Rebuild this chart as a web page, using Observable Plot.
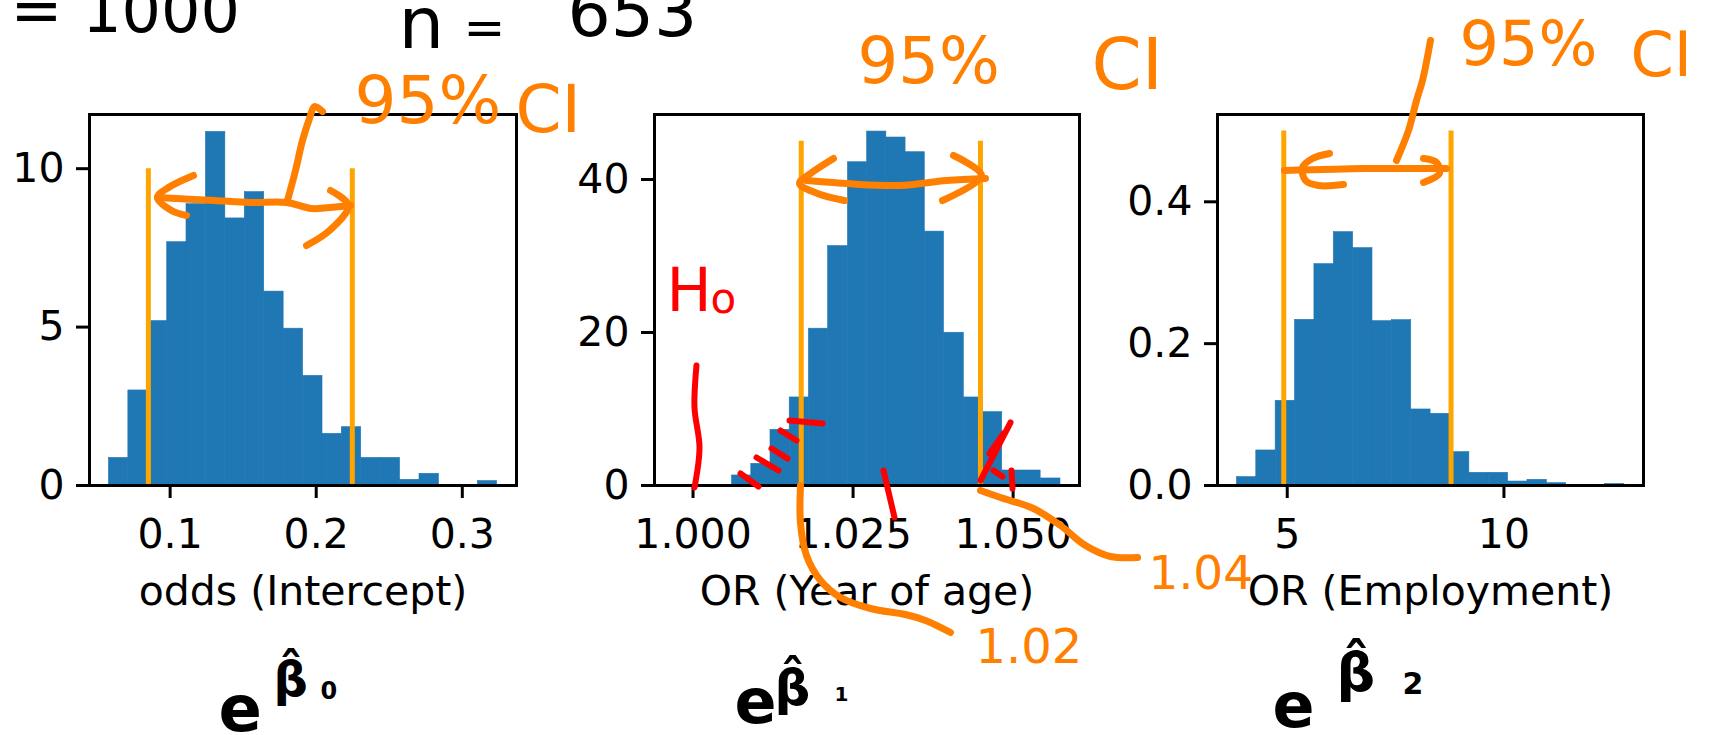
<!DOCTYPE html>
<html>
<head>
<meta charset="utf-8">
<script src="https://cdn.jsdelivr.net/npm/d3@7"></script>
<script src="https://cdn.jsdelivr.net/npm/@observablehq/plot@0.6"></script>
<style>
  html, body { margin: 0; padding: 0; background: #ffffff; }
  #chart { position: relative; width: 1710px; height: 735px; overflow: hidden; background: #ffffff; }
</style>
</head>
<body>
<div id="chart"></div>
<script>
// ---------------- data (bootstrap distributions, density histograms) ----------------
const interceptBinEdges = [0.0581, 0.0714, 0.0847, 0.0980, 0.1112, 0.1245, 0.1378, 0.1511, 0.1644, 0.1777, 0.1910,
                           0.2043, 0.2175, 0.2308, 0.2441, 0.2574, 0.2707, 0.2840, 0.2973, 0.3106, 0.3238];
const interceptDensity = [0.87, 3.00, 5.19, 7.68, 8.88, 11.16, 8.43, 9.26, 6.12, 4.95,
                          3.46, 1.63, 1.84, 0.87, 0.87, 0.18, 0.37, 0, 0, 0.14];
const interceptCI = [0.0851, 0.2247];
const interceptCITop = 10;

const ageBinEdges = [0.9970, 1.0000, 1.0030, 1.0061, 1.0091, 1.0121, 1.0151, 1.0181, 1.0211, 1.0242, 1.0272,
                     1.0302, 1.0332, 1.0362, 1.0392, 1.0423, 1.0453, 1.0483, 1.0513, 1.0543, 1.0574];
const ageDensity = [0, 0, 0, 1.31, 2.83, 7.28, 11.51, 20.5, 31.3, 42.26,
                    46.27, 45.49, 43.57, 33.19, 19.97, 11.51, 9.59, 1.96, 1.96, 0.92];
const ageCI = [1.0169, 1.0449];
const ageCITop = 45;

const employmentBinEdges = [3.839, 4.286, 4.733, 5.180, 5.627, 6.074, 6.520, 6.967, 7.414, 7.861, 8.308,
                            8.755, 9.202, 9.649, 10.096, 10.543, 10.990, 11.436, 11.883, 12.330, 12.777];
const employmentDensity = [0.0118, 0.0494, 0.1194, 0.2336, 0.3121, 0.3572, 0.3347, 0.2317, 0.2331, 0.1072,
                           0.1011, 0.0470, 0.0179, 0.0179, 0.0056, 0.0080, 0.0033, 0, 0, 0.0022];
const employmentCI = [4.92, 8.78];
const employmentCITop = 0.5;

const xAxisLabels = ["odds (Intercept)", "OR (Year of age)", "OR (Employment)"];
const interceptXTicks = [0.1, 0.2, 0.3];
const interceptYTicks = [0, 5, 10];
const ageXTicks = [1.000, 1.025, 1.050];
const ageYTicks = [0, 20, 40];
const employmentXTicks = [5, 10];
const employmentYTicks = [0.0, 0.2, 0.4];

// handwritten notes (text kept as text)
const notesTop = [
  {text: "= 1000", x: 10, y: 31, size: 62},
  {text: "n", x: 398, y: 47, size: 72},
  {text: "=", x: 463, y: 44, size: 50},
  {text: "653", x: 567, y: 35, size: 68}
];
const notesBlack = [
  {text: "e", x: 218, y: 730, size: 64},
  {text: "\u03B2\u0302", x: 273, y: 695, size: 48},
  {text: "0", x: 320, y: 698, size: 24},
  {text: "e", x: 734, y: 722, size: 62},
  {text: "\u03B2\u0302", x: 774, y: 704, size: 50},
  {text: "1", x: 834, y: 700, size: 20},
  {text: "e", x: 1272, y: 726, size: 62},
  {text: "\u03B2\u0302", x: 1336, y: 690, size: 54},
  {text: "2", x: 1402, y: 693, size: 30}
];
const notesOrange = [
  {text: "95%", x: 354, y: 122, size: 66},
  {text: "CI", x: 515, y: 131, size: 66},
  {text: "95%", x: 857, y: 82, size: 64},
  {text: "CI", x: 1091, y: 88, size: 72},
  {text: "95%", x: 1459, y: 64, size: 62},
  {text: "CI", x: 1630, y: 75, size: 62},
  {text: "1.02", x: 975, y: 662, size: 48},
  {text: "1.04", x: 1148, y: 588, size: 47}
];
const notesRed = [
  {text: "H", x: 666, y: 310, size: 60},
  {text: "o", x: 710, y: 312, size: 42}
];

// hand-drawn ink strokes (page pixels)
const inkOrange = [
  [[322,111],[314,106],[309,118],[302,140],[295,170],[287,200]],
  [[157,197],[214,200],[250,202],[286,202],[311,208],[329,207],[350,205]],
  [[193,175],[168,187],[157,197],[171,210],[186,215]],
  [[330,190],[348,205],[329,230],[306,245]],
  [[806,180],[846,183],[899,185],[946,180],[985,178]],
  [[833,158],[810,173],[799,183],[817,193],[844,200]],
  [[953,155],[981,175],[942,200]],
  [[800,485],[800,523],[806,555],[820,580],[840,597],[870,608],[905,614],[925,620],[950,632]],
  [[980,490],[1000,497],[1033,508],[1060,525],[1085,545],[1110,556],[1137,557]],
  [[1430,40],[1422,80],[1416,100],[1408,130],[1396,160]],
  [[1284,170],[1364,168],[1400,168],[1446,168]],
  [[1343,184],[1318,185],[1305,180],[1302,167],[1312,158],[1329,153]],
  [[1423,158],[1436,162],[1439,173],[1423,182]]
];
const inkRed = [
  [[696,365],[694,407],[699,447],[694,487]],
  [[740,473],[758,486]],
  [[756,457],[778,470]],
  [[771,448],[787,458]],
  [[780,430],[796,440]],
  [[789,420],[822,423]],
  [[883,470],[894,517]],
  [[980,480],[1010,422]],
  [[989,453],[1003,433]],
  [[993,470],[1002,476]],
  [[1011,470],[1012,488]]
];

// ---------------- drawing ----------------
const chart = document.getElementById("chart");
const FONT = "'DejaVu Sans', sans-serif";
const TICK_FONT = 41;

function histogram(cfg) {
  const bins = cfg.density.map((d, i) => ({x1: cfg.edges[i], x2: cfg.edges[i + 1], density: d}));
  return Plot.plot({
    width: cfg.width,
    height: 735,
    marginTop: 114,
    marginBottom: 250,
    marginLeft: cfg.marginLeft,
    marginRight: cfg.width - cfg.marginLeft - cfg.inner,
    style: {position: "absolute", left: cfg.left + "px", top: "0px", background: "transparent",
            overflow: "visible", maxWidth: "none", fontFamily: FONT, fontSize: TICK_FONT + "px", color: "black"},
    x: {domain: cfg.xDomain},
    y: {domain: cfg.yDomain},
    marks: [
      Plot.rect(bins.filter(b => b.density > 0),
                {x1: "x1", x2: "x2", y1: 0, y2: "density", fill: "#1f77b4", stroke: "#1f77b4", strokeWidth: 0.6, inset: 0}),
      Plot.ruleX(cfg.ci, {y1: 0, y2: cfg.ciTop, stroke: "orange", strokeWidth: 5}),
      Plot.frame({stroke: "black", strokeWidth: 3}),
      Plot.axisX(cfg.xTicks, {tickSize: 13, tickPadding: 20, strokeWidth: 3, tickFormat: cfg.xFormat,
                              fontSize: TICK_FONT, label: null}),
      Plot.axisY(cfg.yTicks, {tickSize: 13, tickPadding: 12, strokeWidth: 3, tickFormat: cfg.yFormat,
                              fontSize: TICK_FONT, label: null}),
      Plot.text([cfg.label], {text: d => d, frameAnchor: "bottom", dy: 119, lineAnchor: "bottom", fontSize: TICK_FONT})
    ]
  });
}

chart.appendChild(histogram({
  left: 0, width: 556, marginLeft: 89, inner: 427,
  edges: interceptBinEdges, density: interceptDensity, ci: interceptCI, ciTop: interceptCITop,
  xDomain: [0.0448, 0.3371], yDomain: [0, 11.71],
  xTicks: interceptXTicks, yTicks: interceptYTicks, xFormat: d3.format(".1f"), yFormat: d3.format("d"),
  label: xAxisLabels[0]
}));
chart.appendChild(histogram({
  left: 560, width: 559, marginLeft: 94, inner: 425,
  edges: ageBinEdges, density: ageDensity, ci: ageCI, ciTop: ageCITop,
  xDomain: [0.99398, 1.06037], yDomain: [0, 48.5],
  xTicks: ageXTicks, yTicks: ageYTicks, xFormat: d3.format(".3f"), yFormat: d3.format("d"),
  label: xAxisLabels[1]
}));
chart.appendChild(histogram({
  left: 1120, width: 590, marginLeft: 97, inner: 426,
  edges: employmentBinEdges, density: employmentDensity, ci: employmentCI, ciTop: employmentCITop,
  xDomain: [3.391, 13.22], yDomain: [0, 0.5231],
  xTicks: employmentXTicks, yTicks: employmentYTicks, xFormat: d3.format("d"), yFormat: d3.format(".1f"),
  label: xAxisLabels[2]
}));

const toPoints = strokes => strokes.flatMap((s, id) => s.map(([x, y]) => ({x, y, id})));
const inkOpts = {x: "x", y: "y", z: "id", curve: "catmull-rom", strokeLinecap: "round", strokeLinejoin: "round"};
const noteOpts = {x: "x", y: "y", text: "text", fontSize: d => d.size, textAnchor: "start",
                  lineAnchor: "bottom", fontFamily: FONT};

chart.appendChild(Plot.plot({
  width: 1710, height: 735, margin: 0,
  x: {domain: [0, 1710], range: [0, 1710], axis: null},
  y: {domain: [0, 735], range: [0, 735], axis: null},
  style: {position: "absolute", left: "0px", top: "0px", background: "transparent",
          overflow: "visible", maxWidth: "none", fontFamily: FONT},
  marks: [
    Plot.line(toPoints(inkOrange), {...inkOpts, stroke: "#ff7f00", strokeWidth: 7}),
    Plot.line(toPoints(inkRed), {...inkOpts, stroke: "#ff0000", strokeWidth: 6}),
    Plot.text(notesTop, {...noteOpts, fill: "black"}),
    Plot.text(notesBlack, {...noteOpts, fill: "black", fontWeight: "bold"}),
    Plot.text(notesOrange, {...noteOpts, fill: "#ff7f00"}),
    Plot.text(notesRed, {...noteOpts, fill: "#ff0000"})
  ]
}));
</script>
</body>
</html>
